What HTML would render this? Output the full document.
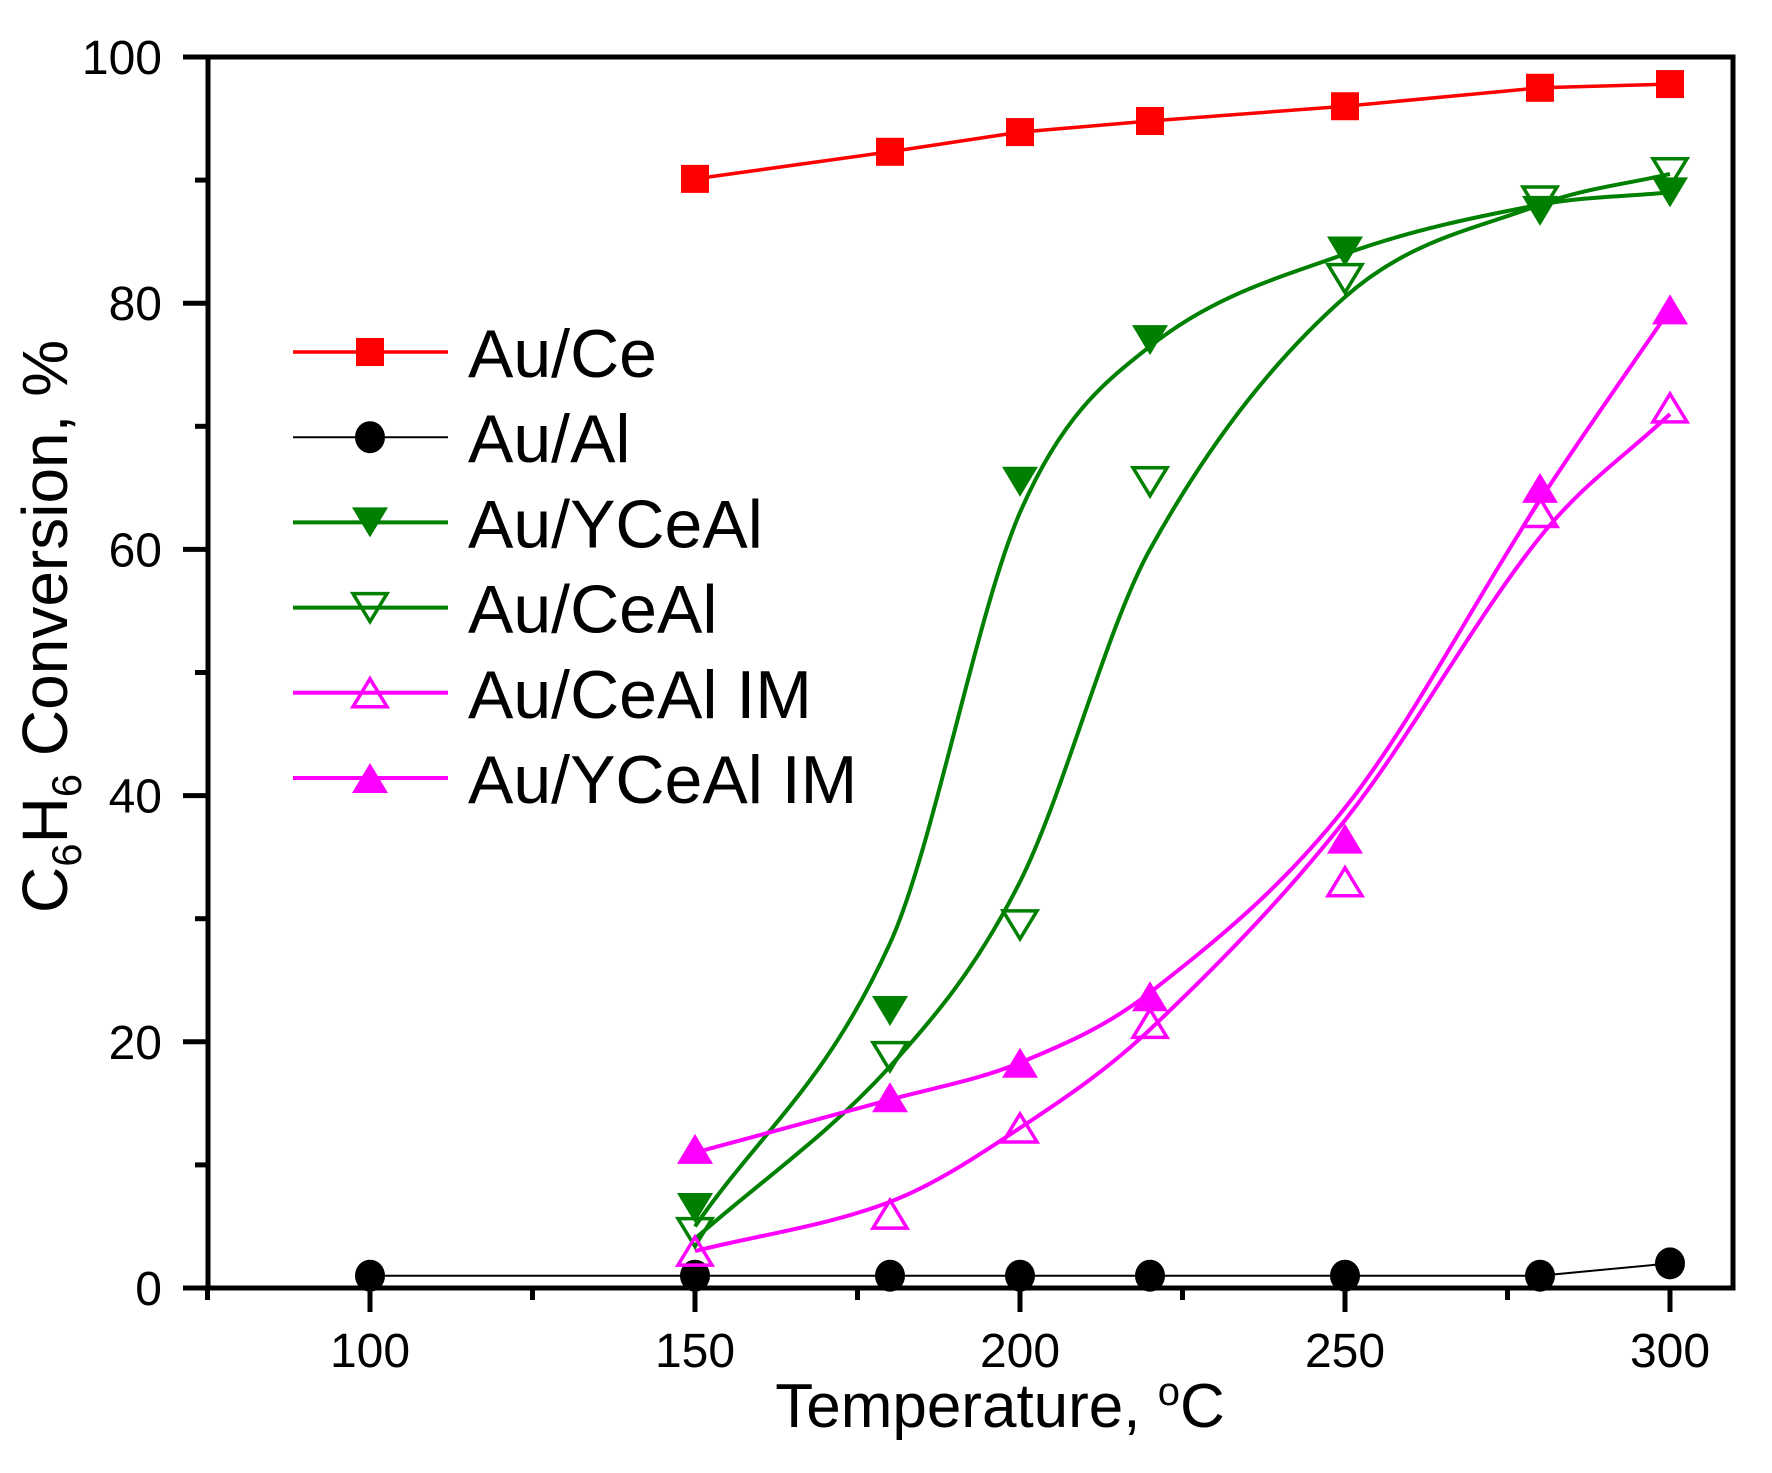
<!DOCTYPE html>
<html><head><meta charset="utf-8"><style>
html,body{margin:0;padding:0;background:#fff;}
svg{display:block;font-family:"Liberation Sans",Arial,sans-serif;}
</style></head><body>
<svg id="s" width="1772" height="1473" viewBox="0 0 1772 1473" xmlns="http://www.w3.org/2000/svg">
<rect width="1772" height="1473" fill="#fff"/>
<g id="curves"></g>
<g id="marks"></g>
<rect x="208" y="57" width="1525" height="1231" fill="none" stroke="#000" stroke-width="5"/>
<g stroke="#000" stroke-width="5" id="ticks"></g>
<g font-size="48" fill="#000" id="labels"></g>
<text x="1000" y="1427" font-size="62" text-anchor="middle">Temperature, <tspan dy="-22" font-size="40">o</tspan><tspan dy="22">C</tspan></text>
<text transform="translate(67,913) rotate(-90)" font-size="64">C<tspan dy="14" font-size="42">6</tspan><tspan dy="-14">H</tspan><tspan dy="14" font-size="42">6</tspan><tspan dy="-14"> Conversion, %</tspan></text>
<g id="legend"></g>
</svg>
<script>
const NS="http://www.w3.org/2000/svg";
const X=v=>370+(v-100)*6.5, Y=v=>1288-v*12.31;
function el(p,t,a){const e=document.createElementNS(NS,t);for(const k in a)e.setAttribute(k,a[k]);document.getElementById(p).appendChild(e);return e;}
for(let v=75;v<=300;v+=25){const maj=v%50==0;el('ticks','line',{x1:X(v),x2:X(v),y1:1288,y2:maj?1312:1300});}
for(let v=0;v<=100;v+=10){const maj=v%20==0;el('ticks','line',{x1:208,x2:maj?183:195,y1:Y(v),y2:Y(v)});}
for(let v=100;v<=300;v+=50){const t=el('labels','text',{x:X(v),y:1367,'text-anchor':'middle'});t.textContent=v;}
for(let v=0;v<=100;v+=20){const t=el('labels','text',{x:162,y:Y(v)+17,'text-anchor':'end'});t.textContent=v;}
function cr(pts){let d='M'+pts[0][0]+','+pts[0][1];for(let i=0;i<pts.length-1;i++){const p0=pts[Math.max(0,i-1)],p1=pts[i],p2=pts[i+1],p3=pts[Math.min(pts.length-1,i+2)];
const h=p2[0]-p1[0];const m1=(p2[1]-p0[1])/(p2[0]-p0[0]||1),m2=(p3[1]-p1[1])/(p3[0]-p1[0]||1);
d+=' C'+(p1[0]+h/3)+','+(p1[1]+m1*h/3)+' '+(p2[0]-h/3)+','+(p2[1]-m2*h/3)+' '+p2[0]+','+p2[1];}return d;}
function marker(g,type,x,y,c){
 if(type=='sq')el(g,'rect',{x:x-14,y:y-14,width:28,height:28,fill:c});
 else if(type=='ci')el(g,'ellipse',{cx:x,cy:y,rx:15,ry:16,fill:c});
 else if(type=='dn')el(g,'polygon',{points:`${x-18},${y-15} ${x+18},${y-15} ${x},${y+15}`,fill:c});
 else if(type=='dno')el(g,'polygon',{points:`${x-17},${y-14} ${x+17},${y-14} ${x},${y+14}`,fill:'none',stroke:c,'stroke-width':3.5});
 else if(type=='up')el(g,'polygon',{points:`${x-18},${y+15} ${x+18},${y+15} ${x},${y-15}`,fill:c});
 else if(type=='upo')el(g,'polygon',{points:`${x-17},${y+14} ${x+17},${y+14} ${x},${y-14}`,fill:'none',stroke:c,'stroke-width':3.5});
}
const T=[150,180,200,220,250,280,300];
const S=[
 {n:'Au/Ce',c:'#ff0000',m:'sq',w:3.5,lin:true,p:[90.1,92.3,93.9,94.8,96,97.5,97.8]},
 {n:'Au/Al',c:'#000',m:'ci',w:2,lin:true,t:[100,150,180,200,220,250,280,300],p:[1,1,1,1,1,1,1,2]},
 {n:'Au/YCeAl',c:'#008000',m:'dn',w:4,p:[6.5,22.5,65.5,77,84.2,87.5,89],cv:[5,28,63,76.5,84,88,89]},
 {n:'Au/CeAl',c:'#008000',m:'dno',w:4,p:[4.5,18.8,29.5,65.5,82,88.3,90.6],cv:[4,18,33,60,80.5,88,90.5]},
 {n:'Au/CeAl IM',c:'#ff00ff',m:'upo',w:4,p:[3,6,13,21.5,33,63,71.5],cv:[3,7,13,21,38,61,71]},
 {n:'Au/YCeAl IM',c:'#ff00ff',m:'up',w:4,p:[11.3,15.5,18.3,23.7,36.5,65,79.5],cv:[11,15.3,18.3,24,39,64,79.5]}
];
S.forEach((s,i)=>{
 const t=s.t||T;
 if(s.lin){el('curves','polyline',{points:t.map((v,j)=>X(v)+','+Y(s.p[j])).join(' '),fill:'none',stroke:s.c,'stroke-width':s.w});}
 else{el('curves','path',{d:cr(t.map((v,j)=>[X(v),Y(s.cv[j])])),fill:'none',stroke:s.c,'stroke-width':s.w});}
 t.forEach((v,j)=>marker('marks',s.m,X(v),Y(s.p[j]),s.c));
 const ly=352+i*85.2;
 el('legend','line',{x1:293,x2:448,y1:ly,y2:ly,stroke:s.c,'stroke-width':s.w});
 marker('legend',s.m,370,ly,s.c);
 const tx=el('legend','text',{x:468,y:ly+25,'font-size':68});tx.textContent=s.n;
});
</script>
</body></html>
